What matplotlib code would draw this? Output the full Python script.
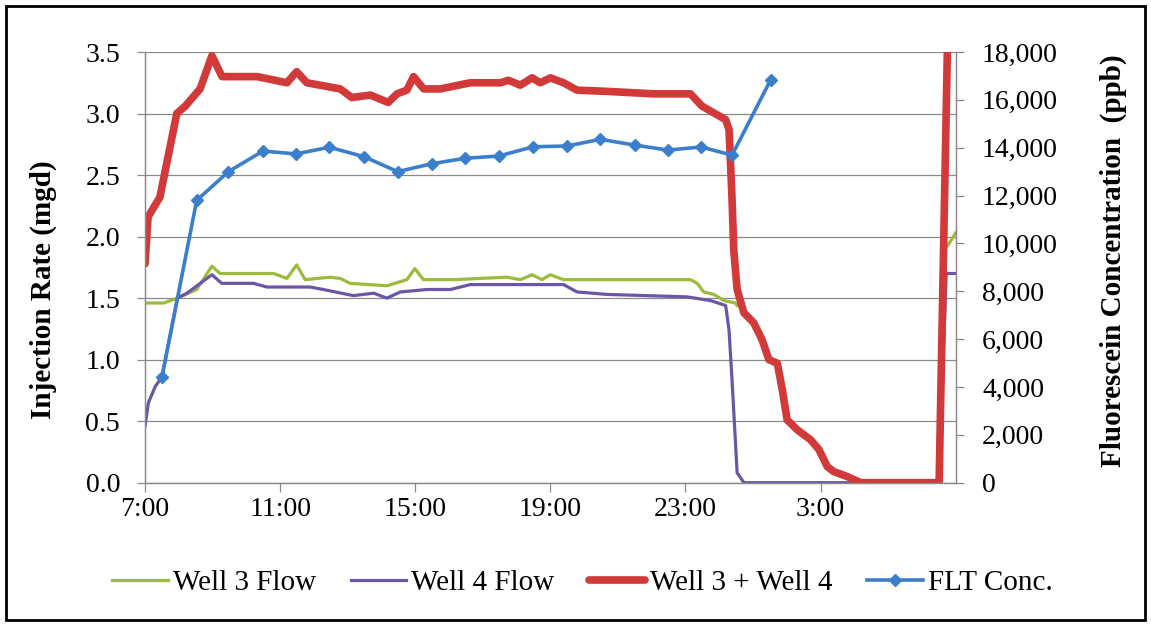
import numpy as np
import matplotlib
matplotlib.use("Agg")
import matplotlib.pyplot as plt
from matplotlib.patches import Rectangle
from matplotlib.ticker import FuncFormatter, MultipleLocator

plt.rcParams["font.family"] = ["Liberation Serif", "DejaVu Serif"]

# hours after 7:00 on the first day
well3_hours = [0.00, 0.55, 0.96, 1.53, 1.98, 2.22, 3.81, 4.20, 4.49, 4.74, 5.48, 5.78,
               6.07, 7.16, 7.75, 7.99, 8.24, 8.74, 9.14, 10.71, 11.11, 11.46, 11.75,
               12.00, 12.39, 16.15, 16.35, 16.54, 16.84, 17.14, 17.48, 17.53,
               17.60, 23.75, 24.00]
well3_flow = [1.46, 1.46, 1.50, 1.57, 1.76, 1.70, 1.70, 1.66, 1.77, 1.65, 1.67, 1.66,
              1.62, 1.60, 1.65, 1.74, 1.65, 1.65, 1.65, 1.67, 1.65, 1.69, 1.65,
              1.69, 1.65, 1.65, 1.62, 1.55, 1.53, 1.48, 1.46, 1.44,
              np.nan, 1.92, 2.03]

well4_hours = [0.00, 0.10, 0.30, 0.50, 0.96, 1.24, 1.98, 2.27, 3.21, 3.61, 4.89, 5.28,
               6.17, 6.77, 7.16, 7.56, 8.35, 9.04, 9.63, 12.39, 12.79, 13.68, 16.05,
               16.74, 17.19, 17.29, 17.38, 17.53, 17.73, 23.50, 23.72, 24.00]
well4_flow = [0.46, 0.65, 0.78, 0.86, 1.50, 1.54, 1.69, 1.62, 1.62, 1.59, 1.59, 1.57,
              1.52, 1.54, 1.50, 1.55, 1.57, 1.57, 1.61, 1.61, 1.55, 1.53, 1.51,
              1.48, 1.44, 1.24, 0.83, 0.08, 0.00, 0.00, 1.70, 1.70]

total_hours = [0.00, 0.09, 0.44, 0.94, 1.19, 1.63, 1.98, 2.28, 3.32, 4.20, 4.49, 4.79,
               5.78, 6.12, 6.67, 7.20, 7.46, 7.75, 7.95, 8.25, 8.74, 9.63, 10.52,
               10.76, 11.11, 11.46, 11.70, 12.00, 12.39, 12.79, 13.68, 15.06, 16.15,
               16.49, 17.19, 17.29, 17.33, 17.38, 17.43, 17.53, 17.73, 18.02, 18.27,
               18.47, 18.72, 18.87, 19.01, 19.31, 19.70, 19.95, 20.20, 20.39, 20.79,
               21.19, 23.51, 23.76]
total_flow = [1.78, 2.16, 2.32, 3.00, 3.06, 3.20, 3.47, 3.30, 3.30, 3.25, 3.34, 3.25,
              3.20, 3.13, 3.15, 3.09, 3.16, 3.19, 3.30, 3.20, 3.20, 3.25, 3.25,
              3.27, 3.23, 3.29, 3.25, 3.29, 3.25, 3.19, 3.18, 3.16, 3.16,
              3.06, 2.95, 2.87, 2.62, 2.30, 1.89, 1.57, 1.38, 1.30, 1.16,
              1.00, 0.97, 0.75, 0.51, 0.43, 0.35, 0.27, 0.13, 0.09, 0.05,
              0.00, 0.00, 3.60]

flt_hours = [0.50, 1.53, 2.47, 3.49, 4.47, 5.46, 6.49, 7.48, 8.49, 9.48, 10.47, 11.49,
             12.49, 13.48, 14.50, 15.48, 16.46, 17.38, 18.52]
flt_conc = [4400, 11800, 13000, 13860, 13740, 14020, 13620, 13000, 13330, 13560,
            13650, 14040, 14070, 14350, 14110, 13900, 14030, 13690, 16830]

x_tick_hours = [0, 4, 8, 12, 16, 20]
x_tick_labels = ["7:00", "11:00", "15:00", "19:00", "23:00", "3:00"]

grey = "#8a8a8a"

fig = plt.figure(figsize=(11.51, 6.25), dpi=100)
ax = fig.add_axes([0.126, 0.2277, 0.7043, 0.6891])
ax2 = ax.twinx()

ax.plot(well3_hours, well3_flow, color="#9dbb3a", lw=2.3, label="Well 3 Flow")
ax.plot(well4_hours, well4_flow, color="#6b55a6", lw=2.3, label="Well 4 Flow")
ax.plot(total_hours, total_flow, color="#d23a3a", lw=5.5, solid_capstyle="round",
        solid_joinstyle="round", label="Well 3 + Well 4")
ax2.plot(flt_hours, flt_conc, color="#3b7fcc", lw=2.6, marker="D", markersize=6,
         label="FLT Conc.")

ax.set_xlim(0, 24)
ax.set_ylim(0, 3.5)
ax2.set_ylim(0, 18000)

ax.set_xticks(x_tick_hours)
ax.set_xticklabels(x_tick_labels)
ax.yaxis.set_major_locator(MultipleLocator(0.5))
ax.yaxis.set_major_formatter(FuncFormatter(lambda v, p: f"{v:.1f}"))
ax2.yaxis.set_major_locator(MultipleLocator(2000))
ax2.yaxis.set_major_formatter(FuncFormatter(lambda v, p: f"{v:,.0f}"))

ax.grid(axis="y", color=grey, lw=0.9)
ax.set_axisbelow(True)

for a in (ax, ax2):
    a.spines["top"].set_visible(False)
    for s in ("left", "right", "bottom"):
        a.spines[s].set_color(grey)
        a.spines[s].set_linewidth(0.9)

ax.tick_params(axis="x", length=6.5, color=grey, width=0.9, labelsize=20, pad=4)
ax.tick_params(axis="y", length=6, color=grey, width=0.9, labelsize=20, pad=12)
ax2.tick_params(axis="y", length=6, color=grey, width=0.9, labelsize=20, pad=13)

ax.set_ylabel("Injection Rate (mgd)", fontsize=21, fontweight="bold")
ax.yaxis.set_label_coords(-0.1085, 0.447)
ax2.set_ylabel("Fluorescein Concentration  (ppb)", fontsize=21, fontweight="bold")
ax2.yaxis.set_label_coords(1.178, 0.515)

handles = ax.get_lines() + ax2.get_lines()
fig.legend(handles, [h.get_label() for h in handles], loc="center",
           bbox_to_anchor=(0.506, 0.067), ncol=4, frameon=False, fontsize=21,
           handlelength=1.9, handletextpad=0.17, columnspacing=1.2)

fig.patches.append(Rectangle((0.005, 0.008), 0.99, 0.983, transform=fig.transFigure,
                             fill=False, edgecolor="black", lw=2))

fig.savefig("out.png", dpi=100)
